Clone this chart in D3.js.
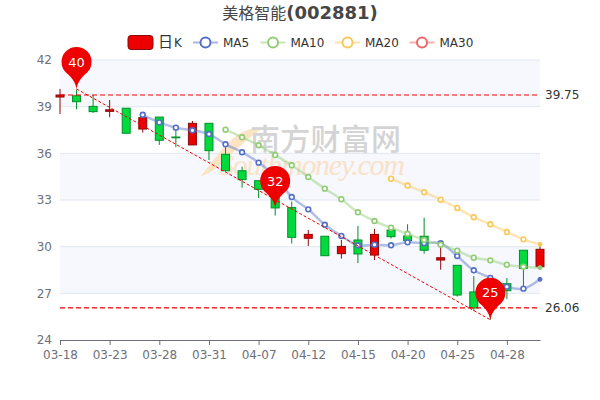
<!DOCTYPE html>
<html>
<head>
<meta charset="utf-8">
<script src="https://cdn.jsdelivr.net/npm/d3@7"></script>
<style>
  html, body { margin: 0; padding: 0; background: #fff; }
  svg { display: block; font-family: "DejaVu Sans", "Noto Sans CJK SC", sans-serif; }
</style>
</head>
<body>
<svg id="chart" width="600" height="400"></svg>
<script>
const dates = ["03-18","03-19","03-22","03-23","03-24","03-25","03-28","03-29","03-30","03-31",
  "04-01","04-02","04-07","04-08","04-09","04-12","04-13","04-14","04-15","04-16",
  "04-19","04-20","04-21","04-22","04-25","04-26","04-27","04-28","04-29","04-30"];

const opens = [39.62,39.70,39.02,38.70,38.90,37.56,38.33,37.05,36.54,37.93,
  35.94,34.88,34.24,33.64,32.51,30.54,30.67,29.55,30.43,29.46,
  31.07,30.69,30.67,29.14,28.80,27.09,27.60,27.62,29.77,28.71];
const closes = [39.75,39.32,38.68,38.80,37.29,38.29,36.84,37.00,37.93,36.17,
  34.88,34.31,33.69,32.49,30.60,30.79,29.42,30.02,29.53,30.79,
  30.64,30.39,29.77,29.29,26.89,26.06,26.90,27.17,28.60,29.83];
const lows = [38.53,38.83,38.60,38.32,37.29,37.33,36.54,36.39,36.54,35.57,
  34.85,33.79,33.13,32.00,30.20,30.04,29.42,29.23,28.95,29.14,
  30.52,30.35,29.55,28.52,26.79,25.87,25.30,26.63,27.33,28.60];
const highs = [40.14,40.10,39.75,39.43,38.90,38.33,38.33,37.60,38.08,37.93,
  36.39,35.14,34.24,33.64,32.90,31.07,30.67,30.43,31.33,31.14,
  31.07,31.44,31.86,29.96,28.80,28.11,28.10,27.98,29.77,30.26];

const ma5 = [null,null,null,null,null,38.48,37.99,37.65,37.48,37.24,
  36.58,36.07,35.40,34.54,33.19,32.40,31.41,30.69,30.09,30.13,
  30.09,30.28,30.22,30.22,29.40,28.48,27.99,27.43,27.30,27.90];
const ma10 = [null,null,null,null,null,null,null,null,null,null,
  37.52,37.03,36.52,35.89,35.23,34.48,33.73,33.05,32.21,31.65,
  31.22,30.83,30.43,30.13,29.74,29.29,29.12,28.84,28.71,28.65];
const ma20 = [null,null,null,null,null,null,null,null,null,null,
  null,null,null,null,null,null,null,null,null,null,
  34.37,33.93,33.50,33.02,32.49,31.89,31.44,30.94,30.47,30.15];

const yTicks = [24,27,30,33,36,39,42];
const xTickEvery = 3;

const pinDates = ["03-19","04-08","04-27"];
const pinValues = [40.14,32.49,25.30];
const pinLabels = ["40","32","25"];
const levelValues = [39.75,26.06];

const legendNames = ["MA5","MA10","MA20","MA30"];
const legendColors = ["#5470c6","#91cc75","#fac858","#ee6666"];

const upColor = "#ec0000", upBorder = "#8a0a0a";
const downColor = "#00da3c", downBorder = "#008f28";

const margin = {top: 60, right: 60, bottom: 60, left: 60};
const width = 600, height = 400;

const svg = d3.select("#chart");

const x = d3.scalePoint().domain(dates).range([margin.left, width - margin.right]);
const y = d3.scaleLinear().domain([24, 42]).range([height - margin.bottom, margin.top]);

// stripes behind the plot
const bands = d3.pairs(yTicks).filter((d, i) => i % 2 === 1);
svg.append("g").selectAll("rect").data(bands).join("rect")
  .attr("x", margin.left)
  .attr("width", width - margin.left - margin.right)
  .attr("y", d => y(d[1]))
  .attr("height", d => y(d[0]) - y(d[1]))
  .attr("fill", "#f6f8fd");

// grid lines
svg.append("g").selectAll("line").data(yTicks.slice(1)).join("line")
  .attr("x1", margin.left).attr("x2", width - margin.right)
  .attr("y1", d => y(d)).attr("y2", d => y(d))
  .attr("stroke", "#e0e6f1");

// watermark
const mark = svg.append("g");
mark.append("path")
  .attr("d", "M263,128C236,126 222,150 201,176C222,170 230,150 263,128Z")
  .attr("fill", "#fbe3c4");
mark.append("text")
  .attr("x", 250).attr("y", 150)
  .attr("font-family", "'Noto Sans CJK SC'").attr("font-weight", 500).attr("font-size", 30)
  .attr("textLength", 151)
  .attr("fill", "#d4d4d4")
  .text("南方财富网");
mark.append("text")
  .attr("x", 219).attr("y", 175)
  .attr("font-family", "'Liberation Serif'").attr("font-style", "italic").attr("font-size", 30)
  .attr("textLength", 186)
  .attr("fill", "#f9e2c8")
  .text("Southmoney.com");

// axes
const yAxis = d3.axisLeft(y).tickValues(yTicks).tickSize(0).tickPadding(8).tickFormat(d3.format("d"));
svg.append("g")
  .attr("transform", `translate(${margin.left},0)`)
  .call(yAxis)
  .call(g => g.select(".domain").remove())
  .selectAll("text").attr("fill", "#6e7079").attr("font-size", 12).attr("font-family", "'DejaVu Sans'");

const xAxis = d3.axisBottom(x)
  .tickValues(dates.filter((d, i) => i % xTickEvery === 0))
  .tickSize(5).tickSizeOuter(0).tickPadding(5);
svg.append("g")
  .attr("transform", `translate(0,${height - margin.bottom})`)
  .call(xAxis)
  .call(g => g.selectAll(".domain, line").attr("stroke", "#6e7079"))
  .selectAll("text").attr("fill", "#6e7079").attr("font-size", 12).attr("font-family", "'DejaVu Sans'");

// candles
const isUp = i => closes[i] >= opens[i];
const bodyWidth = 8;
const candle = svg.append("g").selectAll("g").data(dates).join("g");
candle.append("line")
  .attr("x1", d => x(d)).attr("x2", d => x(d))
  .attr("y1", (d, i) => y(highs[i])).attr("y2", (d, i) => y(lows[i]))
  .attr("stroke", (d, i) => isUp(i) ? upBorder : downBorder);
candle.append("rect")
  .attr("x", d => x(d) - bodyWidth / 2)
  .attr("width", bodyWidth)
  .attr("y", (d, i) => y(Math.max(opens[i], closes[i])))
  .attr("height", (d, i) => Math.max(0.5, Math.abs(y(opens[i]) - y(closes[i]))))
  .attr("fill", (d, i) => isUp(i) ? upColor : downColor)
  .attr("stroke", (d, i) => isUp(i) ? upBorder : downBorder)
  .attr("stroke-width", 1);

// moving averages
const line = d3.line()
  .defined(d => d !== null)
  .x((d, i) => x(dates[i]))
  .y(d => y(d))
  .curve(d3.curveCatmullRom.alpha(0.5));

[ma5, ma10, ma20].forEach((series, k) => {
  const g = svg.append("g");
  g.append("path")
    .attr("d", line(series))
    .attr("fill", "none")
    .attr("stroke", legendColors[k])
    .attr("stroke-width", 2.5)
    .attr("stroke-opacity", 0.45);
  // the last point is drawn as a small solid dot, the others as rings
  const isLast = d => d.i === dates.length - 1;
  g.selectAll("circle")
    .data(series.map((v, i) => ({v, i})).filter(d => d.v !== null))
    .join("circle")
    .attr("cx", d => x(dates[d.i]))
    .attr("cy", d => y(d.v))
    .attr("r", d => isLast(d) ? 2 : 2.4)
    .attr("fill", d => isLast(d) ? legendColors[k] : "#fff")
    .attr("stroke", legendColors[k])
    .attr("stroke-width", d => isLast(d) ? 1 : 1.6);
});

// dashed levels
const levels = svg.append("g").selectAll("g").data(levelValues).join("g");
levels.append("line")
  .attr("x1", margin.left).attr("x2", width - margin.right)
  .attr("y1", d => y(d)).attr("y2", d => y(d))
  .attr("stroke", "#ee0000").attr("stroke-width", 1.2).attr("stroke-dasharray", "5,3");
levels.append("text")
  .attr("x", width - margin.right + 5)
  .attr("y", d => y(d)).attr("dy", "0.35em")
  .attr("font-size", 12).attr("fill", "#333")
  .text(d => d.toFixed(2));

// diagonal between highest and lowest pins
svg.append("line")
  .attr("x1", x(pinDates[0])).attr("y1", y(pinValues[0]))
  .attr("x2", x(pinDates[2])).attr("y2", y(pinValues[2]))
  .attr("stroke", "#ee0000").attr("stroke-dasharray", "3,2");

// pins
const pinR = 15, pinH = 27;
const pinEdge = pinR * Math.SQRT1_2;
const pinPath = `M0,0C-1,-6 -4,-11 ${-pinEdge},${-pinH + pinEdge}` +
  `A${pinR},${pinR} 0 1 1 ${pinEdge},${-pinH + pinEdge}C4,-11 1,-6 0,0Z`;
const pin = svg.append("g").selectAll("g").data(pinDates).join("g")
  .attr("transform", (d, i) => `translate(${x(d)},${y(pinValues[i])})`);
pin.append("path").attr("d", pinPath).attr("fill", "#ee0000");
pin.append("text")
  .attr("y", -pinH).attr("dy", "0.36em")
  .attr("text-anchor", "middle")
  .attr("font-size", 13).attr("fill", "#fff")
  .text((d, i) => pinLabels[i]);

// title
const title = svg.append("text")
  .attr("x", 300).attr("y", 19)
  .attr("text-anchor", "middle")
  .attr("fill", "#464646");
title.append("tspan").attr("font-size", 16).attr("font-weight", 400).text("美格智能");
title.append("tspan").attr("font-size", 18).attr("font-weight", 700).text("(002881)");

// legend
const legend = svg.append("g");
legend.append("rect")
  .attr("x", 128).attr("y", 35.5).attr("width", 25).attr("height", 14).attr("rx", 3)
  .attr("fill", upColor).attr("stroke", upBorder).attr("stroke-width", 1);
const candleLabel = legend.append("text")
  .attr("x", 158).attr("y", 47).attr("fill", "#333").attr("font-size", 12);
candleLabel.append("tspan").attr("font-size", 15).text("日");
candleLabel.append("tspan").attr("x", 174).text("K");

const legendLineX = [193, 260.5, 335, 409.5];
const legendItem = legend.selectAll(".item").data(legendNames).join("g")
  .attr("class", "item")
  .attr("transform", (d, i) => `translate(${legendLineX[i]},42.5)`);
legendItem.append("line")
  .attr("x2", 25)
  .attr("stroke", (d, i) => legendColors[i])
  .attr("stroke-width", 2).attr("stroke-opacity", 0.5);
legendItem.append("circle")
  .attr("cx", 12.5).attr("r", 5)
  .attr("fill", "#fff")
  .attr("stroke", (d, i) => legendColors[i])
  .attr("stroke-width", 2);
legendItem.append("text")
  .attr("x", 30).attr("dy", "0.36em")
  .attr("font-size", 12).attr("fill", "#333")
  .text(d => d);
</script>
</body>
</html>
